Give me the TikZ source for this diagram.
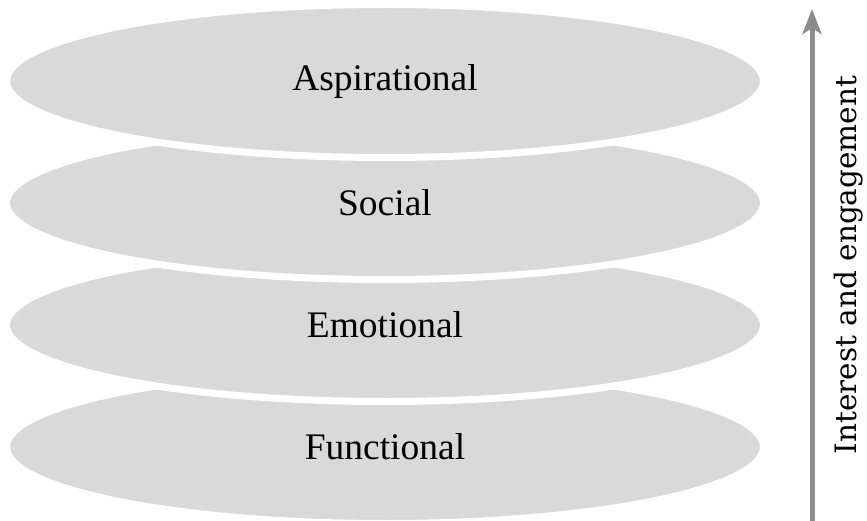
\documentclass[tikz,border=0pt]{standalone}
\usepackage{fontspec}
\setmainfont{Liberation Serif}
\newfontfamily\sidefont{DejaVu Serif}
\usetikzlibrary{shapes.geometric,arrows.meta}
\definecolor{layergray}{HTML}{D9D9D9}
\definecolor{arrowgray}{HTML}{8C8C8C}
\begin{document}
\begin{tikzpicture}[x=1pt,y=-1pt,
  layer/.style={ellipse, fill=layergray, draw=white, line width=7pt,
    minimum width=757pt, minimum height=153pt, inner sep=0pt,
    font=\fontsize{37.5}{40}\selectfont, text=black},
  axisarrow/.style={draw=arrowgray, line width=5pt,
    -{Stealth[length=25pt,width=19pt,inset=6pt]}},
  sidelabel/.style={rotate=90, inner sep=0pt, font=\sidefont\fontsize{29.5}{32}\selectfont, text=black}]
\useasboundingbox (0,0) rectangle (867,521);
\node[layer] (functional) at (385,447) {Functional};
\node[layer] (emotional) at (385,325) {Emotional};
\node[layer] (social) at (385,203) {Social};
\node[layer] (aspirational) at (385,81) {Aspirational};
\coordinate (abot) at (812,524);
\coordinate (atop) at (812,9);
\draw[axisarrow] (abot) -- (atop);
\node[sidelabel] (interest) at (849,265) {Interest and engagement};
\end{tikzpicture}
\end{document}
